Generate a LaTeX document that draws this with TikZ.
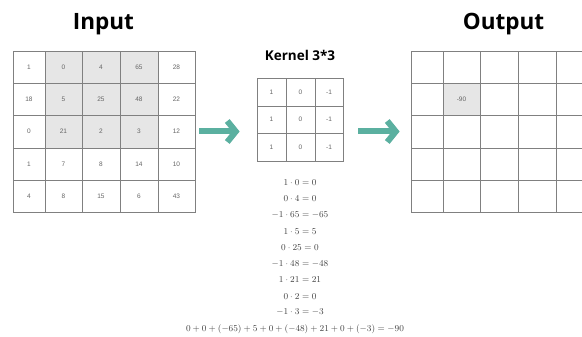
\documentclass[tikz,border=0pt]{standalone}
\usepackage{fontspec}
\setmainfont{Liberation Sans}
\newfontfamily\titlefont{Open Sans}
\usetikzlibrary{arrows.meta}
\definecolor{tealarrow}{HTML}{5BB0A0}
\definecolor{cellgray}{HTML}{E6E6E6}
\definecolor{gridline}{HTML}{808080}
\definecolor{numgray}{HTML}{666666}
\begin{document}
\begin{tikzpicture}[x=1pt,y=-1pt,
  cell/.style={draw=gridline, line width=0.75pt, inner sep=0pt, font=\fontsize{6.5}{8}\selectfont, text=numgray},
  titletext/.style={font=\titlefont\bfseries\fontsize{22.5}{26}\selectfont, anchor=base, inner sep=0pt},
  kerneltitle/.style={font=\titlefont\bfseries\fontsize{13.5}{15}\selectfont, anchor=base, inner sep=0pt},
  eq/.style={font=\fontsize{8.8}{10}\selectfont, inner sep=0pt, text=black!75},
  bigarrow/.style={draw=tealarrow, line width=6pt, -{Straight Barb[length=8.5pt,width=21pt]}}]
\useasboundingbox (0,0) rectangle (582,337);
\fill[white] (0,0) rectangle (582,337);

% titles
\node[titletext] (tin) at (103.5,30) {Input};
\node[titletext] (tout) at (503.5,30) {Output};
\node[kerneltitle] (tker) at (300,61) {Kernel 3*3};

% input grid
\foreach [count=\r] \rowvals in {{1,0,4,65,28},{18,5,25,48,22},{0,21,2,3,12},{1,7,8,14,10},{4,8,15,6,43}}{
  \foreach [count=\c] \v in \rowvals {
    \pgfmathsetmacro\xa{{13,45,82,120,158,195}[\c-1]}
    \pgfmathsetmacro\xb{{13,45,82,120,158,195}[\c]}
    \pgfmathsetmacro\ya{{51,83,115,148,180,212}[\r-1]}
    \pgfmathsetmacro\yb{{51,83,115,148,180,212}[\r]}
    \pgfmathsetmacro\w{\xb-\xa}
    \pgfmathsetmacro\h{\yb-\ya}
    \pgfmathtruncatemacro\sh{and(\r<4,and(\c>1,\c<5))}
    \ifnum\sh=1 \def\cf{cellgray}\else\def\cf{white}\fi
    \node[cell, fill=\cf, minimum width=\w pt, minimum height=\h pt] (in-\r-\c) at ({(\xa+\xb)/2},{(\ya+\yb)/2}) {\v};
  }
}

% kernel grid
\foreach \r in {1,2,3}{
  \foreach [count=\c] \v in {1,0,-1} {
    \pgfmathsetmacro\xa{{257,286,315,343}[\c-1]}
    \pgfmathsetmacro\xb{{257,286,315,343}[\c]}
    \pgfmathsetmacro\ya{{78,106,133,161}[\r-1]}
    \pgfmathsetmacro\yb{{78,106,133,161}[\r]}
    \pgfmathsetmacro\w{\xb-\xa}
    \pgfmathsetmacro\h{\yb-\ya}
    \node[cell, fill=white, minimum width=\w pt, minimum height=\h pt] (ker-\r-\c) at ({(\xa+\xb)/2},{(\ya+\yb)/2}) {\v};
  }
}

% output grid
\foreach \r in {1,...,5}{
  \foreach \c in {1,...,5} {
    \pgfmathsetmacro\xa{{411,443,480,518,556,594}[\c-1]}
    \pgfmathsetmacro\xb{{411,443,480,518,556,594}[\c]}
    \pgfmathsetmacro\ya{{51,83,115,148,180,212}[\r-1]}
    \pgfmathsetmacro\yb{{51,83,115,148,180,212}[\r]}
    \pgfmathsetmacro\w{\xb-\xa}
    \pgfmathsetmacro\h{\yb-\ya}
    \pgfmathtruncatemacro\sh{and(\r==2,\c==2)}
    \ifnum\sh=1 \def\cf{cellgray}\def\tv{-90}\else\def\cf{white}\def\tv{}\fi
    \node[cell, fill=\cf, minimum width=\w pt, minimum height=\h pt] (out-\r-\c) at ({(\xa+\xb)/2},{(\ya+\yb)/2}) {\tv};
  }
}

% arrows
\draw[bigarrow, shorten <=4pt, shorten >=17pt] (in-3-5.east) -- (ker-2-1.west |- in-3-5.east);
\draw[bigarrow, shorten <=15pt, shorten >=11pt] (ker-2-3.east |- out-3-1.west) -- (out-3-1.west);

% equations
\node[eq] (e1) at (300,183) {$1\cdot 0=0$};
\node[eq] (e2) at (300,199) {$0\cdot 4=0$};
\node[eq] (e3) at (300,215) {$-1\cdot 65=-65$};
\node[eq] (e4) at (300,231.5) {$1\cdot 5=5$};
\node[eq] (e5) at (300,247.5) {$0\cdot 25=0$};
\node[eq] (e6) at (300,264) {$-1\cdot 48=-48$};
\node[eq] (e7) at (300,280) {$1\cdot 21=21$};
\node[eq] (e8) at (300,296.5) {$0\cdot 2=0$};
\node[eq] (e9) at (300,312.5) {$-1\cdot 3=-3$};
\node[eq] (e10) at (295,329) {$0+0+(-65)+5+0+(-48)+21+0+(-3)=-90$};
\end{tikzpicture}
\end{document}
